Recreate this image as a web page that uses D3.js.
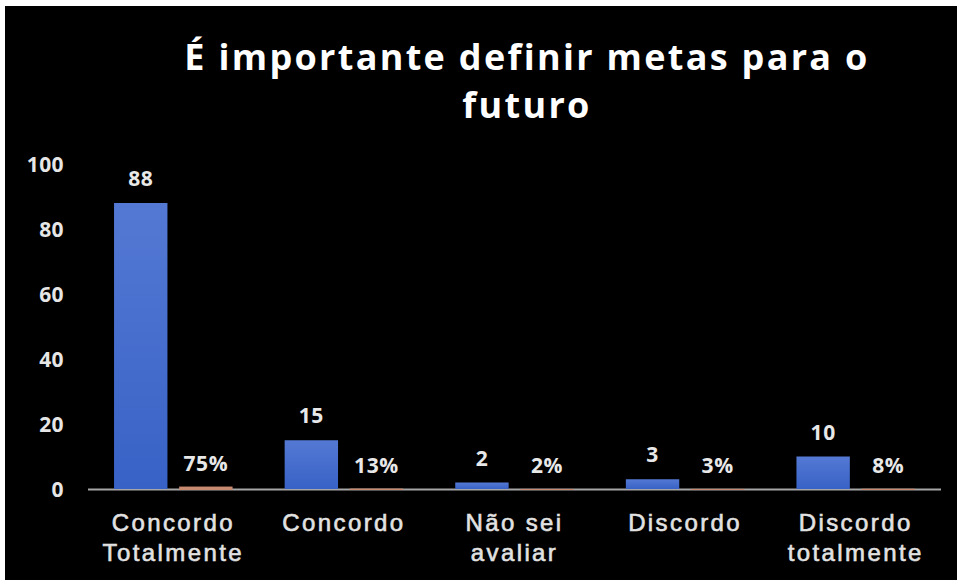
<!DOCTYPE html>
<html>
<head>
<meta charset="utf-8">
<script src="https://cdn.jsdelivr.net/npm/d3@7"></script>
<style>
  html, body { margin: 0; padding: 0; background: #ffffff; }
  svg { display: block; }
</style>
</head>
<body>
<svg id="chart" width="957" height="580"></svg>
<script>
// Survey answers: count of respondents and share of the total
const categories = [["Concordo", "Totalmente"], ["Concordo"], ["Não sei", "avaliar"], ["Discordo"], ["Discordo", "totalmente"]];
const counts = [88, 15, 2, 3, 10];
const shares = [0.75, 0.13, 0.02, 0.03, 0.08];
const shareLabels = ["75%", "13%", "2%", "3%", "8%"];
const yTicks = [0, 20, 40, 60, 80, 100];
const titleLines = ["É importante definir metas para o", "futuro"];

const W = 957, H = 580;
const svg = d3.select("#chart");

// dark panel inside a thin white frame along the top and left
svg.append("rect").attr("x", 0).attr("y", 0).attr("width", W).attr("height", H).attr("fill", "#ffffff");
svg.append("rect").attr("x", 5).attr("y", 6).attr("width", W - 5).attr("height", H - 6).attr("fill", "#000000");

const defs = svg.append("defs");
const grad = defs.append("linearGradient").attr("id", "blueBar").attr("x1", 0).attr("y1", 0).attr("x2", 0).attr("y2", 1);
grad.append("stop").attr("offset", "0%").attr("stop-color", "#5479d4");
grad.append("stop").attr("offset", "100%").attr("stop-color", "#3862c6");

const plot = { left: 88, right: 941, top: 164, bottom: 489 };

const x = d3.scaleBand().domain(d3.range(categories.length)).range([plot.left, plot.right]).paddingInner(0).paddingOuter(0);
const inner = d3.scaleBand().domain([0, 1]).range([0, x.bandwidth()]).paddingInner(0.18).paddingOuter(0.4);
const y = d3.scaleLinear().domain([0, 100]).range([plot.bottom, plot.top]);

// title
const title = svg.append("text")
  .attr("fill", "#ffffff")
  .attr("font-family", "'Open Sans', sans-serif")
  .attr("font-weight", 700)
  .attr("font-size", 36)
  .attr("text-anchor", "middle");
titleLines.forEach((t, i) => {
  title.append("tspan")
    .attr("x", 527)
    .attr("y", 70 + i * 48)
    .attr("letter-spacing", 2.3)
    .text(t);
});

// y axis tick labels
const yAxis = d3.axisLeft(y).tickValues(yTicks).tickSize(0).tickPadding(0);
const gy = svg.append("g").attr("transform", `translate(64,0)`).call(yAxis);
gy.select(".domain").remove();
gy.selectAll("text")
  .attr("fill", "#e6e6e6")
  .attr("font-family", "'Open Sans', sans-serif")
  .attr("font-weight", 700)
  .attr("font-size", 21)
  .attr("letter-spacing", 0.4)
  .attr("dy", "0.35em");

// baseline
svg.append("line")
  .attr("x1", plot.left).attr("x2", plot.right)
  .attr("y1", y(0) + 0.5).attr("y2", y(0) + 0.5)
  .attr("stroke", "#a6a6a6").attr("stroke-width", 2);

// count bars
svg.append("g").selectAll("rect").data(counts).join("rect")
  .attr("x", (d, i) => x(i) + inner(0))
  .attr("y", d => y(d))
  .attr("width", inner.bandwidth())
  .attr("height", d => y(0) - y(d))
  .attr("fill", "url(#blueBar)");

// share bars (very small against the count scale)
svg.append("g").selectAll("rect").data(shares).join("rect")
  .attr("x", (d, i) => x(i) + inner(1))
  .attr("y", d => y(d))
  .attr("width", inner.bandwidth())
  .attr("height", d => y(0) - y(d) + 1)
  .attr("fill", "#c98a72");

const labelStyle = sel => sel
  .attr("fill", "#e8e8e8")
  .attr("font-family", "'Open Sans', sans-serif")
  .attr("font-weight", 700)
  .attr("font-size", 21)
  .attr("letter-spacing", 0.6)
  .attr("text-anchor", "middle");

// value labels
svg.append("g").selectAll("text").data(counts).join("text")
  .call(labelStyle)
  .attr("x", (d, i) => x(i) + inner(0) + inner.bandwidth() / 2)
  .attr("y", d => y(d) - 17)
  .text(d => d);

svg.append("g").selectAll("text").data(shares).join("text")
  .call(labelStyle)
  .attr("x", (d, i) => x(i) + inner(1) + inner.bandwidth() / 2)
  .attr("y", d => y(d) - 16)
  .text((d, i) => shareLabels[i]);

// category labels
const cat = svg.append("g").selectAll("text").data(categories).join("text")
  .attr("fill", "#e2e2e2")
  .attr("stroke", "#e2e2e2")
  .attr("stroke-width", 0.6)
  .attr("font-family", "'Liberation Sans', Arial, sans-serif")
  .attr("font-size", 24)
  .attr("letter-spacing", 2.4)
  .attr("text-anchor", "middle");
cat.each(function(lines, i) {
  const t = d3.select(this);
  lines.forEach((ln, j) => {
    t.append("tspan")
      .attr("x", x(i) + x.bandwidth() / 2)
      .attr("y", 531 + j * 30)
      .text(ln);
  });
});
</script>
</body>
</html>
